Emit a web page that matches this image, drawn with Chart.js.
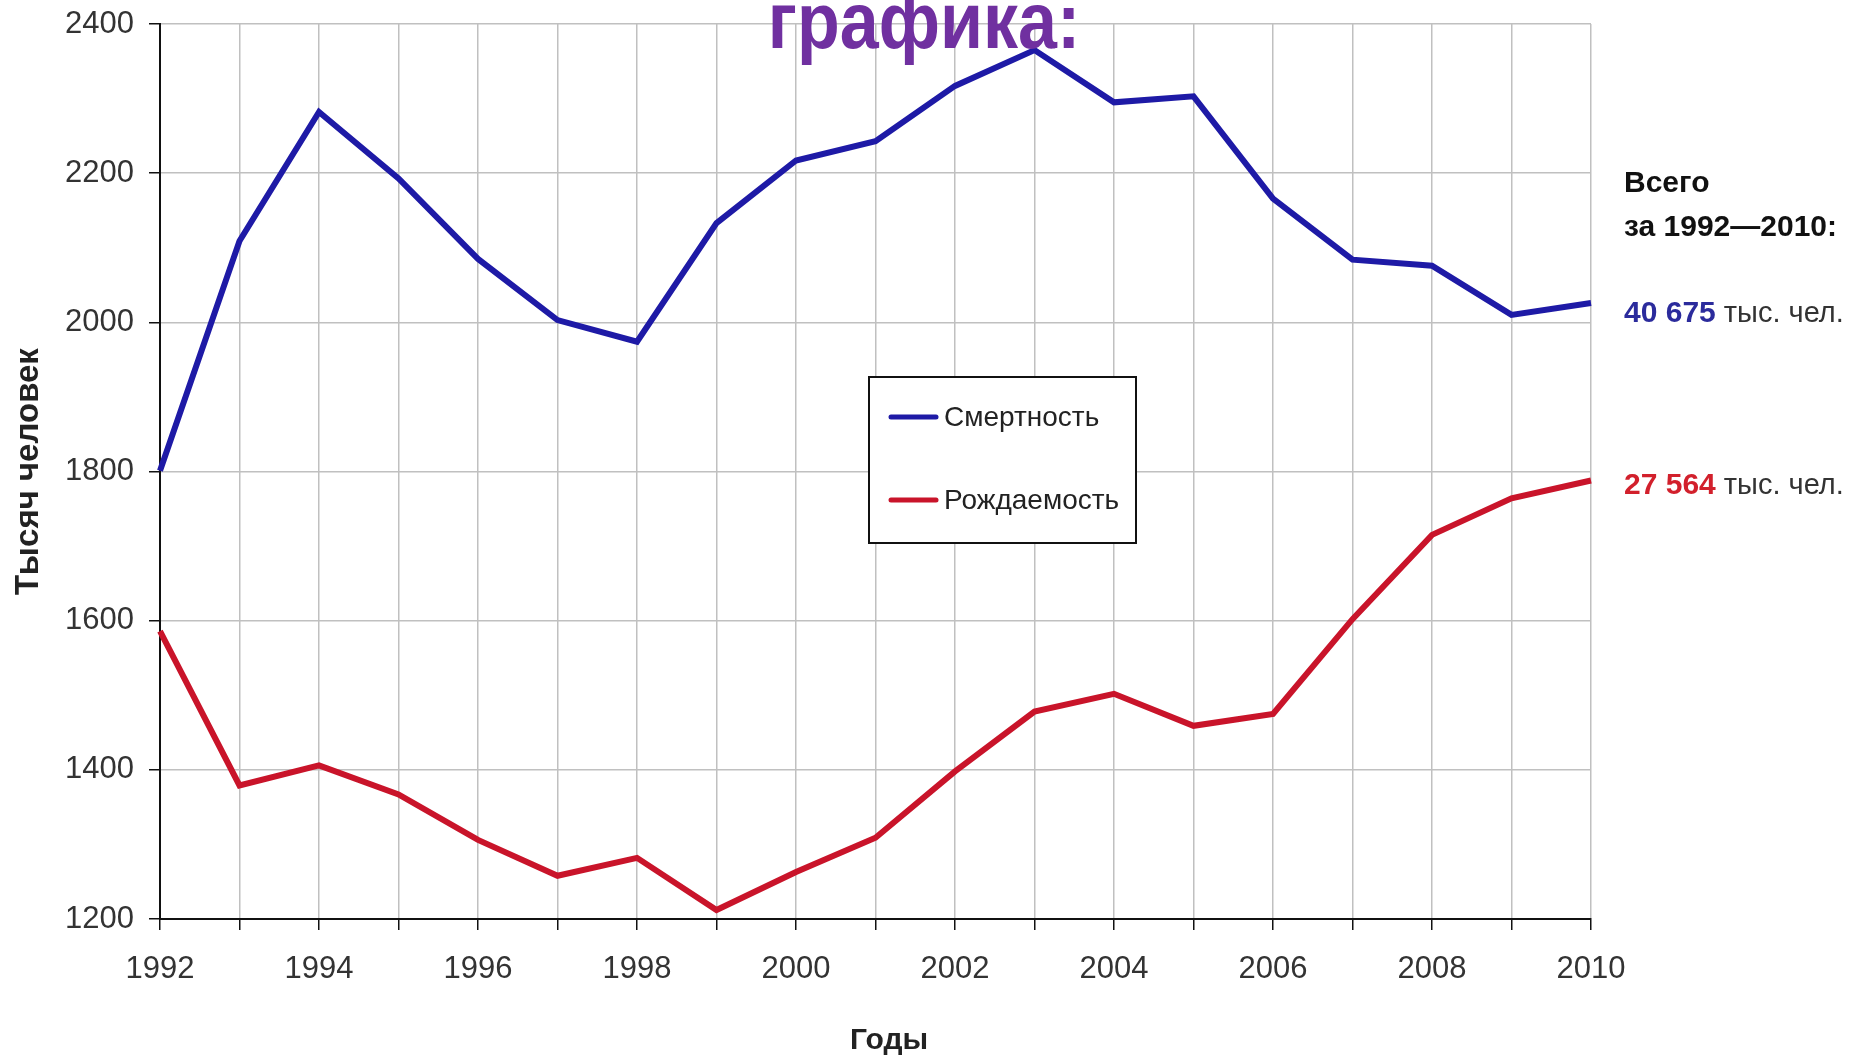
<!DOCTYPE html>
<html>
<head>
<meta charset="utf-8">
<script src="https://cdn.jsdelivr.net/npm/chart.js@4/dist/chart.umd.min.js"></script>
<style>
  html, body { margin: 0; padding: 0; background: #fff; }
  #wrap { width: 1859px; height: 1056px; position: relative; }
</style>
</head>
<body>
<div id="wrap"><canvas id="c" width="1859" height="1056"></canvas></div>
<script>
// ---- data ----
const years = ['1992','1993','1994','1995','1996','1997','1998','1999','2000','2001','2002','2003','2004','2005','2006','2007','2008','2009','2010'];
const deaths = [1801, 2109, 2282, 2193, 2085, 2003, 1974, 2133, 2217, 2243, 2317, 2365, 2295, 2303, 2166, 2084, 2076, 2010, 2026];
const births = [1586, 1379, 1406, 1367, 1306, 1258, 1282, 1212, 1263, 1309, 1398, 1478, 1502, 1459, 1475, 1602, 1715, 1764, 1788];
const seriesNames = ['Смертность', 'Рождаемость'];
const yMin = 1200, yMax = 2400, yStep = 200;
const xTitle = 'Годы';
const yTitle = 'Тысяч человек';
const headerText = 'графика:';
const totalsHeader = ['Всего', 'за 1992—2010:'];
const totalsValues = ['40 675', '27 564'];
const totalsUnit = ' тыс. чел.';

const BLUE = '#1e1aa6';
const RED = '#c9142a';
const FONT = "'Liberation Sans', Arial, sans-serif";

const overlay = {
  id: 'overlay',
  afterDraw(chart) {
    const ctx = chart.ctx;
    ctx.save();
    // header fragment
    ctx.save();
    ctx.translate(924, 48);
    ctx.scale(1, 1.15);
    ctx.font = 'bold 70px ' + FONT;
    ctx.fillStyle = '#7030a0';
    ctx.textAlign = 'center';
    ctx.textBaseline = 'alphabetic';
    ctx.fillText(headerText, 0, 0);
    ctx.restore();

    // x axis title
    ctx.font = 'bold 30px ' + FONT;
    ctx.fillStyle = '#222';
    ctx.textAlign = 'center';
    ctx.textBaseline = 'middle';
    ctx.fillText(xTitle, 889, 1041);

    // legend box
    ctx.fillStyle = '#fff';
    ctx.fillRect(869, 377, 267, 166);
    ctx.strokeStyle = '#111';
    ctx.lineWidth = 2;
    ctx.strokeRect(869, 377, 267, 166);
    const ly = [417, 500];
    chart.data.datasets.forEach((ds, i) => {
      ctx.strokeStyle = ds.borderColor;
      ctx.lineWidth = 5;
      ctx.lineCap = 'round';
      ctx.beginPath();
      ctx.moveTo(891, ly[i]);
      ctx.lineTo(936, ly[i]);
      ctx.stroke();
      ctx.font = '28px ' + FONT;
      ctx.fillStyle = '#222';
      ctx.textAlign = 'left';
      ctx.textBaseline = 'middle';
      ctx.fillText(ds.label, 944, ly[i] + 1);
    });

    // totals on the right
    ctx.textAlign = 'left';
    ctx.textBaseline = 'middle';
    ctx.font = 'bold 30px ' + FONT;
    ctx.fillStyle = '#111';
    ctx.fillText(totalsHeader[0], 1624, 184);
    ctx.fillText(totalsHeader[1], 1624, 228);
    const ty = [314, 486];
    const tc = ['#2b2b9c', '#d2202c'];
    totalsValues.forEach((v, i) => {
      ctx.font = 'bold 30px ' + FONT;
      ctx.fillStyle = tc[i];
      ctx.fillText(v, 1624, ty[i]);
      const w = ctx.measureText(v).width;
      ctx.font = '29px ' + FONT;
      ctx.fillStyle = '#333';
      ctx.fillText(totalsUnit, 1624 + w, ty[i]);
    });
    ctx.restore();
  }
};

new Chart(document.getElementById('c'), {
  type: 'line',
  data: {
    labels: years,
    datasets: [
      { label: seriesNames[0], data: deaths, borderColor: BLUE, backgroundColor: BLUE, borderWidth: 6, pointRadius: 0, tension: 0 },
      { label: seriesNames[1], data: births, borderColor: RED, backgroundColor: RED, borderWidth: 6, pointRadius: 0, tension: 0 }
    ]
  },
  options: {
    responsive: false,
    animation: false,
    devicePixelRatio: 1,
    layout: { padding: { left: 0, right: 268, top: 24, bottom: 0 } },
    plugins: { legend: { display: false }, tooltip: { enabled: false } },
    scales: {
      x: {
        type: 'category',
        offset: false,
        afterFit(s) { s.height = 137; s.paddingLeft = 0; s.paddingRight = 0; },
        grid: { color: '#c0c0c0', lineWidth: 1.5, tickColor: '#111', tickLength: 11, drawTicks: true },
        border: { color: '#111', width: 2 },
        ticks: {
          autoSkip: false, maxRotation: 0, padding: 21,
          color: '#333', font: { family: FONT, size: 31 },
          callback(v, i) { return i % 2 === 0 ? years[i] : ''; }
        },
        title: { display: false, text: xTitle }
      },
      y: {
        min: yMin, max: yMax,
        afterFit(s) { s.width = 160; s.paddingTop = 0; s.paddingBottom = 0; },
        grid: { color: '#c0c0c0', lineWidth: 1.5, tickColor: '#111', tickLength: 11 },
        border: { color: '#111', width: 2 },
        ticks: { stepSize: yStep, padding: 15, color: '#333', font: { family: FONT, size: 31 }, callback(v) { return String(v); } },
        title: { display: true, text: yTitle, color: '#222', font: { family: FONT, size: 33, weight: 'bold', lineHeight: 1 }, padding: { top: 12, bottom: 0 } }
      }
    }
  },
  plugins: [overlay]
});
</script>
</body>
</html>
